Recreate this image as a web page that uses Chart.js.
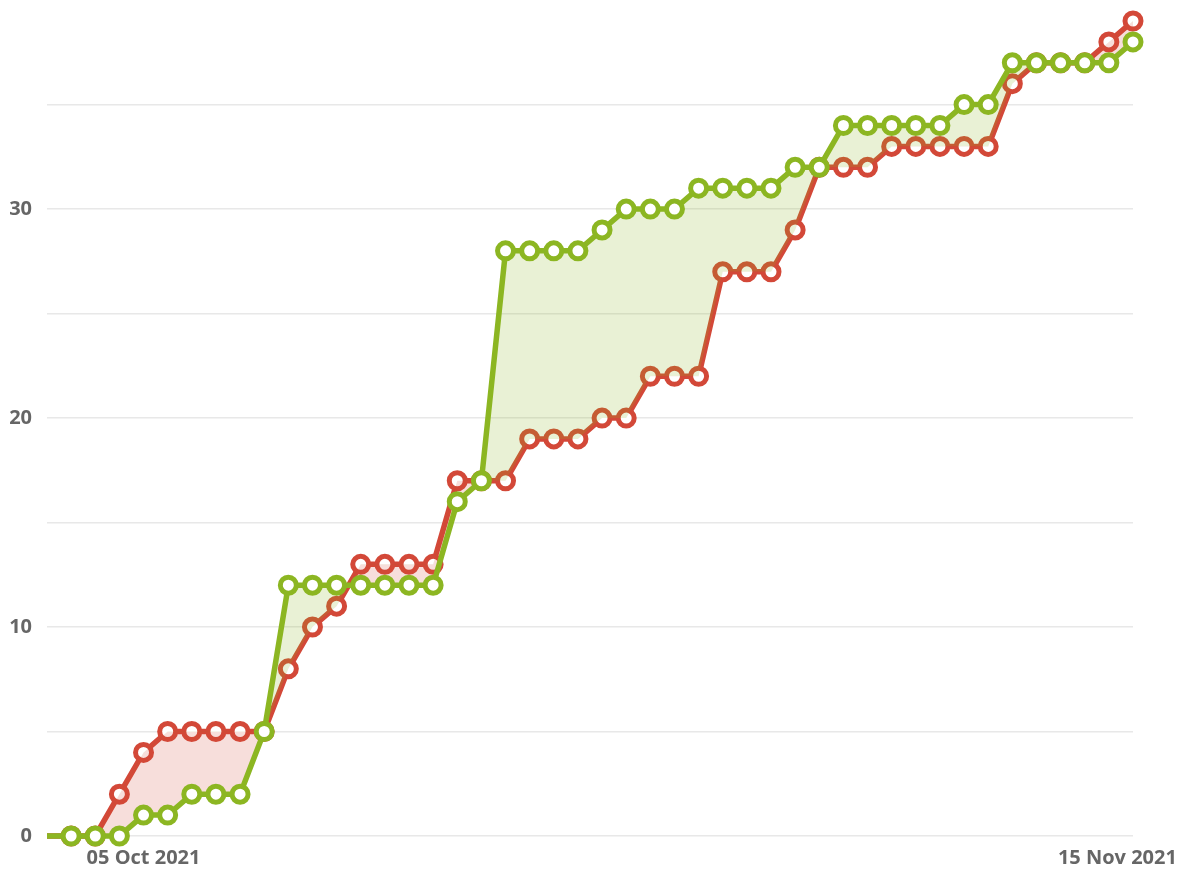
<!DOCTYPE html>
<html>
<head>
<meta charset="utf-8">
<script src="https://cdn.jsdelivr.net/npm/chart.js@4/dist/chart.umd.min.js"></script>
<style>
  html, body { margin: 0; padding: 0; background: #ffffff; }
  #wrap { width: 1184px; height: 872px; position: relative; }
</style>
</head>
<body>
<div id="wrap"><canvas id="c"></canvas></div>
<script>
const categories = [
  "01 Oct 2021","02 Oct 2021","03 Oct 2021","04 Oct 2021","05 Oct 2021","06 Oct 2021","07 Oct 2021","08 Oct 2021",
  "09 Oct 2021","10 Oct 2021","11 Oct 2021","12 Oct 2021","13 Oct 2021","14 Oct 2021","15 Oct 2021","16 Oct 2021",
  "17 Oct 2021","18 Oct 2021","19 Oct 2021","20 Oct 2021","21 Oct 2021","22 Oct 2021","23 Oct 2021","24 Oct 2021",
  "25 Oct 2021","26 Oct 2021","27 Oct 2021","28 Oct 2021","29 Oct 2021","30 Oct 2021","31 Oct 2021","01 Nov 2021",
  "02 Nov 2021","03 Nov 2021","04 Nov 2021","05 Nov 2021","06 Nov 2021","07 Nov 2021","08 Nov 2021","09 Nov 2021",
  "10 Nov 2021","11 Nov 2021","12 Nov 2021","13 Nov 2021","14 Nov 2021","15 Nov 2021"
];
const greenSeries = [0, 0,0,0,1,1,2,2,2,5,12,12,12,12,12,12,12,16,17,28,28,28,28,29,30,30,30,31,31,31,31,32,32,34,34,34,34,34,35,35,37,37,37,37,37,38];
const redSeries   = [0, 0,0,2,4,5,5,5,5,5,8,10,11,13,13,13,13,17,17,17,19,19,19,20,20,22,22,22,27,27,27,29,32,32,32,33,33,33,33,33,36,37,37,37,38,39];
const xTickLabels = ["05 Oct 2021", "15 Nov 2021"];
const yTickLabels = [0, 10, 20, 30];

const GREEN = '#8cb622';
const RED = '#d34838';
const tickFont = { family: "'Open Sans', 'Liberation Sans', sans-serif", size: 20, weight: 'bold' };

new Chart(document.getElementById('c'), {
  type: 'line',
  data: {
    labels: categories,
    datasets: [
      {
        label: 'Green',
        data: greenSeries,
        borderColor: GREEN,
        borderWidth: 5.5,
        pointBackgroundColor: '#ffffff',
        pointBorderColor: GREEN,
        pointBorderWidth: 5,
        pointRadius: ctx => ctx.dataIndex === 0 ? 0 : 8,
        pointHoverRadius: 8,
        tension: 0,
        clip: false,
        fill: { target: 1, above: 'rgba(140,182,34,0.19)', below: 'rgba(211,72,56,0.18)' }
      },
      {
        label: 'Red',
        data: redSeries,
        borderColor: RED,
        borderWidth: 5.5,
        pointBackgroundColor: '#ffffff',
        pointBorderColor: RED,
        pointBorderWidth: 5,
        pointRadius: ctx => ctx.dataIndex === 0 ? 0 : 8,
        pointHoverRadius: 8,
        tension: 0,
        clip: false,
        fill: false
      }
    ]
  },
  options: {
    responsive: true,
    maintainAspectRatio: false,
    animation: false,
    layout: { padding: { top: 21, left: 7, right: 51, bottom: 2 } },
    plugins: { legend: { display: false }, tooltip: { enabled: false } },
    scales: {
      x: {
        type: 'category',
        offset: false,
        grid: { display: false, drawTicks: false },
        border: { display: false },
        afterFit: s => { s.paddingLeft = 0; s.paddingRight = 0; s.height = 34; },
        ticks: {
          autoSkip: false,
          maxRotation: 0,
          minRotation: 0,
          padding: 10,
          color: '#666666',
          font: tickFont,
          callback: function(value, index, ticks) {
            const l = this.getLabelForValue(value);
            if (!xTickLabels.includes(l)) return '';
            return index === ticks.length - 1 ? l + '\u00a0\u00a0\u00a0\u00a0\u00a0\u00a0' : l;
          }
        }
      },
      y: {
        min: 0,
        max: 39,
        afterFit: s => { s.paddingTop = 0; s.paddingBottom = 0; s.width = 40; },
        grid: {
          drawTicks: false,
          lineWidth: 1.5,
          color: ctx => (ctx.tick && ctx.tick.value % 5 === 0) ? '#e8e8e8' : 'rgba(0,0,0,0)'
        },
        border: { display: false },
        ticks: {
          stepSize: 5,
          padding: 15,
          color: '#666666',
          font: tickFont,
          callback: v => yTickLabels.includes(v) ? String(v) : ''
        }
      }
    }
  }
});
</script>
</body>
</html>
